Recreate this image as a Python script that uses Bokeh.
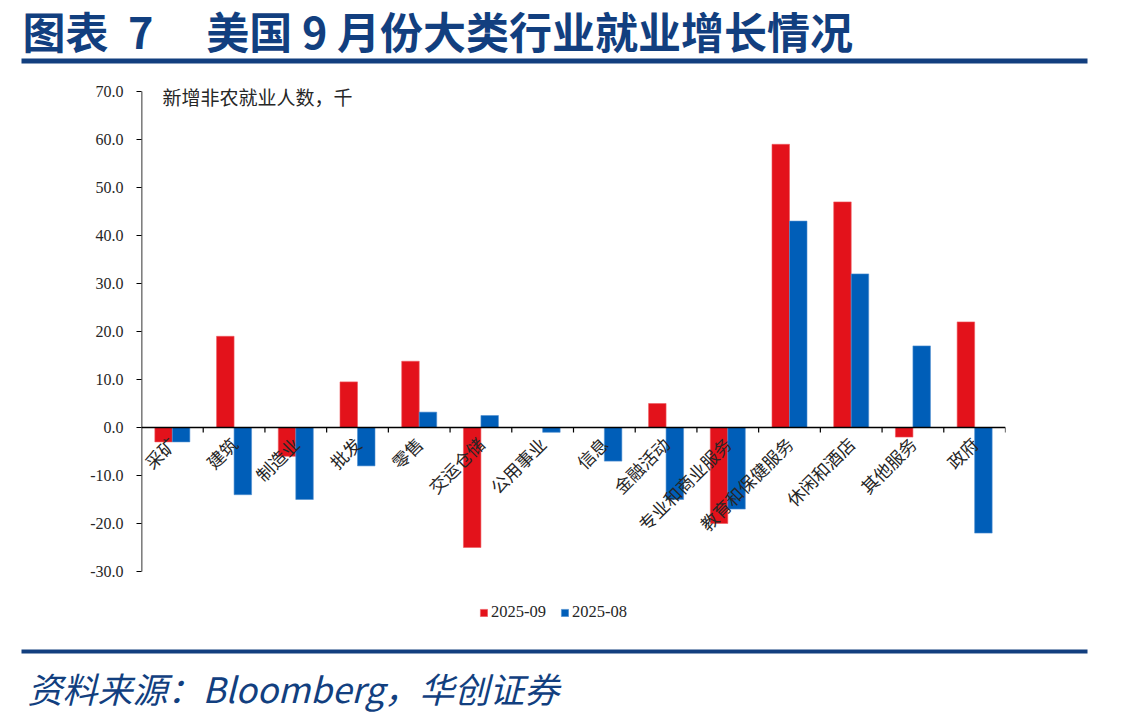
import math
from bokeh.plotting import figure
from bokeh.layouts import column
from bokeh.models import (ColumnDataSource, FixedTicker, NumeralTickFormatter, Label,
                          Legend, LegendItem, Range1d)
from bokeh.transform import dodge
from bokeh.core.properties import value
from bokeh.embed import file_html
from bokeh.resources import INLINE

categories = ["采矿", "建筑", "制造业", "批发", "零售", "交运仓储", "公用事业", "信息",
              "金融活动", "专业和商业服务", "教育和保健服务", "休闲和酒店", "其他服务", "政府"]
series_sep = [-3.0, 19.0, -6.0, 9.5, 13.8, -25.0, 0.0, 0.0, 5.0, -20.0, 59.0, 47.0, -2.0, 22.0]
series_aug = [-3.0, -14.0, -15.0, -8.0, 3.2, 2.5, -1.0, -7.0, -15.0, -17.0, 43.0, 32.0, 17.0, -22.0]
series_names = ["2025-09", "2025-08"]
y_ticks = [-30, -20, -10, 0, 10, 20, 30, 40, 50, 60, 70]

NB = "\u00a0"
title_text = "图表" + NB * 2 + "7" + "\u3000" + NB + "美国" + NB + "9" + NB + "月份大类行业就业增长情况"
subtitle_text = "新增非农就业人数，千"
source_text = "资料来源：Bloomberg，华创证券"

RED = "#E3121B"
BLUE = "#005EB8"
NAVY = "#123F7F"

W = 1145
H_HEAD, H_MAIN, H_FOOT = 64, 582, 72
FL, FR = 141, 1005          # frame left/right in page px
PX_PER_UNIT = 4.8
ZERO_Y = 427 - H_HEAD        # zero line, px from top of main figure

n = len(categories)
src = ColumnDataSource(dict(x=[i + 0.5 for i in range(n)], cat=categories,
                            sep=series_sep, aug=series_aug))


def no_align(f):
    if "frame_align" in f.properties():
        f.frame_align = False


def blank(height):
    f = figure(width=W, height=height, output_backend="svg", toolbar_location=None,
               x_range=Range1d(0, W), y_range=Range1d(height, 0),
               x_axis_location=None, y_axis_location=None,
               min_border=0, min_border_left=0, min_border_right=0,
               min_border_top=0, min_border_bottom=0)
    f.outline_line_color = None
    f.grid.visible = False
    f.border_fill_color = "white"
    no_align(f)
    return f


# ---------- header ----------
head = blank(H_HEAD)
head.text(x=[22], y=[29], text=[title_text], text_font=value("Noto Sans CJK SC"),
          text_font_style="bold", text_font_size="43px", text_color=NAVY,
          text_baseline="middle", text_align="left")
head.quad(left=[21], right=[1087], top=[58], bottom=[63], fill_color=NAVY, line_color=None)

# ---------- main chart ----------
y_top = ZERO_Y / PX_PER_UNIT
y_bot = -(H_MAIN - ZERO_Y) / PX_PER_UNIT
p = figure(width=W, height=H_MAIN, output_backend="svg", toolbar_location=None,
           x_range=Range1d(0, n), y_range=Range1d(y_bot, y_top),
           x_axis_location=None, min_border_left=FL, min_border_right=W - FR,
           min_border_top=0, min_border_bottom=0)
p.outline_line_color = None
p.grid.visible = False
p.border_fill_color = "white"
no_align(p)

bw = 0.2836
r1 = p.vbar(x=dodge("x", -bw / 2), top="sep", width=bw, source=src,
            fill_color=RED, line_color="#EE5A60", line_width=0.6)
r2 = p.vbar(x=dodge("x", bw / 2), top="aug", width=bw, source=src,
            fill_color=BLUE, line_color="#4F8FD0", line_width=0.6)

# y axis line only over the tick span
p.segment(x0=0, y0=y_ticks[0], x1=0, y1=y_ticks[-1], line_color="black", line_width=1.6)
# zero line with category boundary ticks
p.segment(x0=0, y0=0, x1=n, y1=0, line_color="black", line_width=1.3)
p.ray(x=list(range(1, n + 1)), y=[0] * n, length=5, length_units="screen",
      angle=-math.pi / 2, line_color="black", line_width=1.2)

# category labels
p.text(x="x", y=0, text="cat", source=src, angle=math.pi / 4, text_align="right",
       text_baseline="middle", y_offset=13, x_offset=0,
       text_font=value("Noto Sans CJK SC"), text_font_size="17.5px", text_color="#262626")

ax = p.yaxis[0]
ax.ticker = FixedTicker(ticks=y_ticks)
ax.formatter = NumeralTickFormatter(format="0.0")
ax.major_tick_out = 5
ax.major_tick_in = 0
ax.minor_tick_line_color = None
ax.axis_line_color = None
ax.major_tick_line_color = "black"
ax.major_tick_line_width = 1.2
ax.major_label_standoff = 13
ax.major_label_text_font = "Liberation Serif"
ax.major_label_text_font_size = "16px"
ax.major_label_text_color = "#262626"

p.add_layout(Label(x=162 - FL, y=H_MAIN - (96 - H_HEAD), x_units="screen", y_units="screen",
                   text=subtitle_text, text_font="Noto Sans CJK SC",
                   text_font_size="19px", text_color="#262626", text_baseline="middle"))

legend = Legend(items=[LegendItem(label=series_names[0], renderers=[r1]),
                       LegendItem(label=series_names[1], renderers=[r2])],
                orientation="horizontal", location=(479 - FL, (H_HEAD + H_MAIN) - 622),
                glyph_width=9, glyph_height=9, label_standoff=3, spacing=14,
                padding=0, margin=0, border_line_color=None, background_fill_alpha=0,
                label_text_font="Liberation Serif", label_text_font_size="16.5px",
                label_text_color="#262626", label_height=14)
p.add_layout(legend)

# ---------- footer ----------
foot = blank(H_FOOT)
foot.quad(left=[21], right=[1087], top=[3], bottom=[7], fill_color=NAVY, line_color=None)
foot.text(x=[27], y=[41], text=[source_text], text_font=value("Noto Sans CJK SC"),
          text_font_style="italic", text_font_size="35px", text_color=NAVY,
          text_baseline="middle", text_align="left")

layout = column(head, p, foot, spacing=0)
open("out.html", "w").write(file_html(layout, INLINE))
